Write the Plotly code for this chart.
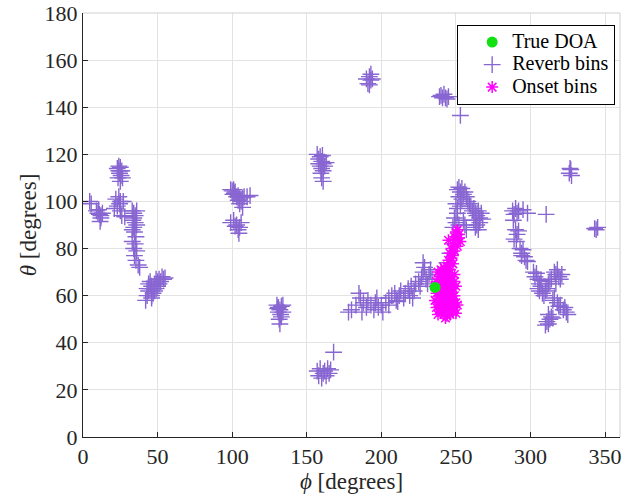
import plotly.graph_objects as go

# ---- data (phi, theta in degrees) ----
reverb_phi = [
    # cluster near 5-13
    4.5, 5.5, 9, 10, 11, 12, 11.5, 10.5, 13, 12,
    # 22-27 / 108-115
    23, 24, 25, 26, 24.5, 25.5, 23.5, 26.5, 25, 24, 25,
    # 20-30 / 93-101
    22, 24, 25, 27, 21, 23, 25, 26, 28, 24.5,
    # column 33-38
    33, 34, 35, 33.5, 35, 34, 36, 34.5, 35.5, 33, 35, 34, 36, 34.5, 35.5, 37, 38, 34, 36, 33,
    # 41-55 / 57-68
    42, 43, 44, 45, 46, 47, 48, 49, 50, 51, 52, 53, 54, 45, 46, 48, 44, 47, 50, 43, 49, 51, 46, 55,
    # ~100-112
    99, 100, 101, 102, 100.5, 101.5, 103, 104, 105, 106, 107, 108, 110, 112, 105, 107, 104,
    99, 101, 103, 104, 105, 106, 102, 104.5,
    # ~132
    130, 131, 132, 133, 134, 131, 132.5, 133, 131.5, 132, 130.5, 134,
    # ~160 / 108-121
    157, 158, 159, 160, 161, 162, 159, 160, 161, 159.5, 160, 161, 158, 163, 160.5,
    # ~160 / 25-36
    157, 158, 159, 161, 162, 163, 164, 165, 166, 160, 168,
    # ~192 / 150-154
    190, 191, 192, 193, 194, 192, 193,
    # ~242 / 144
    239, 240, 241, 242, 243, 244, 245, 253,
    # trail 178-235
    178, 180, 183, 185, 186, 188, 190, 191, 193, 195, 196, 198, 200, 201, 203, 205, 207, 209,
    210, 212, 213, 215, 216, 218, 219, 220, 222, 223, 225, 226, 227, 228, 229, 230, 231, 232,
    233, 234, 228, 221, 211, 205, 197, 187, 246, 248, 244,
    # 247-268 / 86-107
    251, 252, 253, 254, 255, 256, 252, 254, 257, 258, 250, 251, 253, 259, 260, 261, 262, 263,
    264, 265, 266, 267, 264, 265, 266, 249, 250, 252, 255, 256, 257, 262, 263, 268, 251, 248,
    # 287-299 / 73-97
    288, 289, 290, 291, 292, 295, 298, 288.5, 290, 291, 292, 289, 290.5, 293, 294, 295, 296,
    297, 294, 298, 310.5,
    # 302-325 / 46-71
    302, 303, 304, 305, 306, 307, 305, 306, 307, 308, 309, 310, 311, 312, 313, 314, 316, 317,
    318, 319, 320, 321, 317, 315, 316, 318, 319, 320, 322, 323, 324, 325, 312, 313, 314, 311,
    312, 310, 315,
    # ~327 / 112
    326, 327, 327.5, 326.5,
    # ~344 / 88
    343, 345, 344,
]
reverb_theta = [
    100, 99, 96, 95, 94.5, 93, 91.5, 96.5, 95, 94,
    114, 113, 114.5, 113, 112, 111, 110, 110, 108.5, 115, 113,
    101, 102, 100, 100, 97, 98, 96, 94, 93.5, 99,
    96, 95, 94, 92, 91, 89, 90, 87, 85, 83, 82, 80, 79, 77, 75, 73, 72, 93, 96, 88,
    58, 60, 62, 63, 64, 61, 65, 63, 66, 67, 66, 68, 67, 66, 60, 62, 65, 63, 64, 63, 67, 65, 59, 67.5,
    105, 104.5, 105, 104, 103, 103.5, 102, 102.5, 101, 100, 101.5, 102, 102, 102.5, 99, 97.5, 100.5,
    91, 92, 90, 88, 89, 91, 89.5, 86.5,
    56, 55, 54, 55.5, 56, 53, 52, 51, 50, 48, 54.5, 53,
    120, 118, 119, 117, 116, 115, 115, 114, 113, 112, 110, 108.5, 116, 116.5, 119.5,
    28, 26, 29, 27, 28, 26, 29, 27, 28.5, 25, 36,
    152, 150, 153, 151.5, 152, 149.5, 154,
    144.5, 145, 144, 145.5, 144, 143.5, 144.5, 136.5,
    53, 54, 56, 61, 59, 57, 55, 58, 56, 54, 57, 55, 56, 53, 57, 59, 60, 61,
    58, 60, 62, 59, 61, 63, 60, 64, 62, 65, 66, 64, 68, 70, 72, 67, 65, 69,
    71, 67, 74, 59, 57.5, 56, 59, 53, 78, 82, 74,
    105, 106, 104, 105.5, 103, 104, 102, 101, 102, 100, 99, 97, 98, 99, 98, 96, 97, 95,
    94, 96, 93, 95, 90, 88, 91, 93, 91, 90, 92, 90, 88, 92, 89, 92.5, 95, 89,
    96, 94.5, 97, 95, 96, 96.5, 95, 92, 88, 86, 87.5, 84, 83, 80, 78, 79.5, 76.5,
    75, 77, 74.5, 94.5,
    70, 68, 69.5, 67, 65, 66.5, 63, 62, 64, 61, 60, 62, 63, 65, 66, 67, 70, 69,
    71, 68, 67, 69, 65, 58, 59, 57, 55.5, 56, 54, 55, 53, 52, 52, 50, 51, 49,
    48, 47.5, 50.5,
    112, 113.5, 111, 114,
    88.5, 89, 88,
]

onset_phi = [
    250, 251, 252, 249, 250, 252, 253, 245, 248, 251, 247, 249, 246, 248, 247, 245, 246, 248, 244,
    238, 240, 242, 244, 246, 239, 241, 243, 245, 247, 249, 237, 239, 241, 243, 245, 247, 249,
    236, 238, 240, 242, 244, 246, 248, 250, 237, 239, 241, 243, 245, 247, 249,
    236, 238, 240, 242, 244, 246, 248, 250, 237, 239, 241, 243, 245, 247, 249, 251,
    238, 240, 242, 244, 246, 248, 250, 243, 241, 245, 242, 240, 244, 247, 239, 246,
]
onset_theta = [
    87, 88, 86, 85, 84, 84.5, 83, 83.5, 82, 81, 80, 79, 78, 77, 76, 75, 74, 73.5, 72.5,
    70, 71, 72, 70, 71, 68, 69, 68, 67.5, 68, 69, 66, 65.5, 66, 65, 66, 65, 66,
    64, 63, 63.5, 62, 63, 62.5, 63, 64, 61, 60, 61, 60, 60.5, 61, 60,
    58, 57, 58, 57.5, 58, 57, 58, 57, 55, 54, 55, 54.5, 55, 54, 55, 56,
    52, 53, 52, 51.5, 52, 53, 52.5, 50.5, 56.5, 69, 64, 60, 56, 58.5, 62, 66,
]

true_phi = [236]
true_theta = [63.5]

x_ticks = [0, 50, 100, 150, 200, 250, 300, 350]
y_ticks = [0, 20, 40, 60, 80, 100, 120, 140, 160, 180]

FONT = "Liberation Serif"
AXC = "#262626"
GRID = "#e3e3e3"


def leg(name):
    return '<span style="font-size:20px">' + name + "</span>"


fig = go.Figure()
fig.add_trace(go.Scatter(
    x=reverb_phi, y=reverb_theta, mode="markers", name=leg("Reverb bins"), legendrank=2,
    marker=dict(symbol="cross-thin", size=12, line=dict(width=1.4, color="rgb(136,102,210)"),
                color="rgb(136,102,210)"),
))
fig.add_trace(go.Scatter(
    x=onset_phi, y=onset_theta, mode="markers", name=leg("Onset bins"), legendrank=3,
    marker=dict(symbol="asterisk-open", size=10, line=dict(width=1.5, color="#ff00ff"),
                color="#ff00ff"),
))
fig.add_trace(go.Scatter(
    x=true_phi, y=true_theta, mode="markers", name=leg("True DOA"), legendrank=1,
    marker=dict(symbol="circle", size=11, color="#11e011"),
))

fig.update_layout(
    width=639, height=497,
    margin=dict(l=83, r=19, t=13, b=60, autoexpand=False),
    paper_bgcolor="white", plot_bgcolor="white",
    font=dict(family=FONT, size=22, color="black"),
    showlegend=True,
    legend=dict(
        x=0.991, y=0.972, xanchor="right", yanchor="top",
        bgcolor="white", bordercolor="black", borderwidth=1,
        font=dict(family=FONT, size=15, color="black"),
        tracegroupgap=0, itemsizing="trace", indentation=14,
    ),
    shapes=[
        dict(type="line", xref="paper", yref="paper", x0=0, x1=1, y0=1, y1=1,
             line=dict(color="#d0d0d0", width=1)),
        dict(type="line", xref="paper", yref="paper", x0=1, x1=1, y0=0, y1=1,
             line=dict(color="#d0d0d0", width=1)),
    ],
)
fig.update_xaxes(
    range=[0, 360], tickvals=x_ticks, ticktext=[str(v) for v in x_ticks],
    automargin=False,
    showgrid=True, gridcolor=GRID, gridwidth=1, zeroline=False,
    showline=True, linecolor=AXC, linewidth=1,
    ticks="inside", ticklen=5, tickcolor=AXC,
    tickfont=dict(family=FONT, size=22, color=AXC),
    title=dict(text="<i>ϕ</i> [degrees]", font=dict(family=FONT, size=23, color=AXC), standoff=2),
)
fig.update_yaxes(
    range=[0, 180], tickvals=y_ticks, ticktext=[str(v) for v in y_ticks],
    automargin=False,
    showgrid=True, gridcolor=GRID, gridwidth=1, zeroline=False,
    showline=True, linecolor=AXC, linewidth=1,
    ticks="inside", ticklen=5, tickcolor=AXC,
    tickfont=dict(family=FONT, size=22, color=AXC),
    title=dict(text="<i>θ</i> [degrees]", font=dict(family=FONT, size=23, color=AXC), standoff=1),
)

fig.write_html("out.html")
